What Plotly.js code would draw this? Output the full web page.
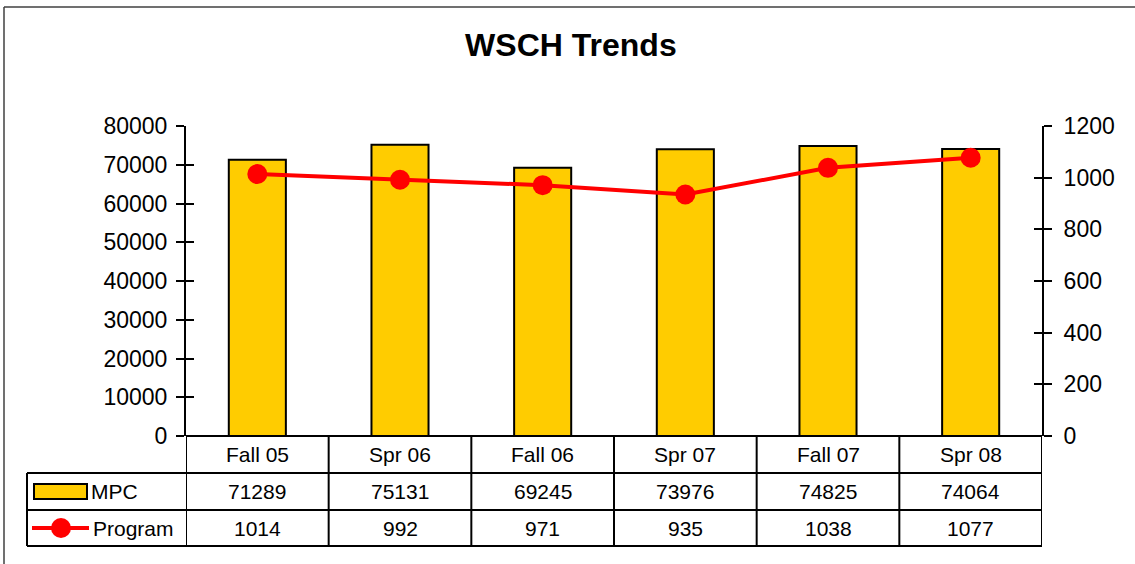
<!DOCTYPE html>
<html>
<head>
<meta charset="utf-8">
<script src="https://cdn.plot.ly/plotly-3.0.1.min.js"></script>
<style>html,body{margin:0;padding:0;background:#fff;}#chart{width:1135px;height:564px;}</style>
</head>
<body>
<div id="chart"></div>
<script>
const categories = ["Fall 05", "Spr 06", "Fall 06", "Spr 07", "Fall 07", "Spr 08"];
const mpcValues = [71289, 75131, 69245, 73976, 74825, 74064];
const programValues = [1014, 992, 971, 935, 1038, 1077];
const seriesNames = ["MPC", "Program"];
const leftTicks = [0, 10000, 20000, 30000, 40000, 50000, 60000, 70000, 80000];
const rightTicks = [0, 200, 400, 600, 800, 1000, 1200];

const W = 1135, H = 564;
const PL = 186, PR = 1042, PT = 126, PB = 436;
const pw = PR - PL, ph = PB - PT;
const px = x => (x - PL) / pw;
const py = y => (PB - y) / ph;

const FONT = "Liberation Sans, Arial, sans-serif";
const idx = categories.map((c, i) => i);

const traces = [
  {
    type: "bar", x: idx, y: mpcValues, name: seriesNames[0],
    width: 0.4,
    marker: {color: "#FFCC00", line: {color: "#000", width: 2}},
    xaxis: "x", yaxis: "y", hoverinfo: "skip"
  },
  {
    type: "scatter", mode: "lines+markers", x: idx, y: programValues, name: seriesNames[1],
    line: {color: "#FF0000", width: 4},
    marker: {color: "#FF0000", size: 20},
    xaxis: "x", yaxis: "y2", hoverinfo: "skip"
  },
  {type: "scatter", x: [0], y: [0], mode: "none", xaxis: "x", yaxis: "y3", showlegend: false, hoverinfo: "skip"},
  {type: "scatter", x: [0], y: [0], mode: "none", xaxis: "x", yaxis: "y4", showlegend: false, hoverinfo: "skip"}
];

const shapes = [];
const annotations = [];
const rowY = [PB, 473, 510, 546];
const lineStyle = {color: "#000", width: 2};

shapes.push({type: "line", xref: "paper", yref: "paper", x0: px(PL), x1: px(PR), y0: py(rowY[0]), y1: py(rowY[0]), line: lineStyle});
for (let r = 1; r < rowY.length; r++) {
  shapes.push({type: "line", xref: "paper", yref: "paper", x0: px(27), x1: 1, y0: py(rowY[r]), y1: py(rowY[r]), line: lineStyle});
}
shapes.push({type: "line", xref: "paper", yref: "paper", x0: px(27), x1: px(27), y0: py(rowY[1]), y1: py(rowY[3]), line: lineStyle});
for (let i = 0; i <= categories.length; i++) {
  shapes.push({type: "line", xref: "x", yref: "paper", x0: i - 0.5, x1: i - 0.5, y0: py(rowY[0]), y1: py(rowY[3]), line: lineStyle});
}

const cellFont = {family: FONT, size: 21, color: "#000"};
const rowMid = r => py((rowY[r] + rowY[r + 1]) / 2);
categories.forEach((c, i) => {
  annotations.push({xref: "x", yref: "paper", x: i, y: rowMid(0), text: c, showarrow: false, font: cellFont, xanchor: "center", yanchor: "middle"});
  annotations.push({xref: "x", yref: "paper", x: i, y: rowMid(1), text: String(mpcValues[i]), showarrow: false, font: cellFont, xanchor: "center", yanchor: "middle"});
  annotations.push({xref: "x", yref: "paper", x: i, y: rowMid(2), text: String(programValues[i]), showarrow: false, font: cellFont, xanchor: "center", yanchor: "middle"});
});
shapes.push({type: "rect", xref: "paper", yref: "paper", x0: px(34), x1: px(87), y0: py(484), y1: py(499), fillcolor: "#FFCC00", line: {color: "#000", width: 2}});
annotations.push({xref: "paper", yref: "paper", x: px(89), y: rowMid(1), text: seriesNames[0], showarrow: false, font: cellFont, xanchor: "left", yanchor: "middle"});
shapes.push({type: "line", xref: "paper", yref: "paper", x0: px(32), x1: px(89), y0: py(528), y1: py(528), line: {color: "#FF0000", width: 4}});
shapes.push({type: "circle", xref: "paper", yref: "paper", x0: px(51), x1: px(71), y0: py(518), y1: py(538), fillcolor: "#FF0000", line: {color: "#FF0000", width: 0}});
annotations.push({xref: "paper", yref: "paper", x: px(91), y: rowMid(2), text: seriesNames[1], showarrow: false, font: cellFont, xanchor: "left", yanchor: "middle"});

shapes.push({type: "line", xref: "paper", yref: "paper", x0: px(4), x1: px(W), y0: py(7), y1: py(7), line: {color: "#404040", width: 1.5}});
shapes.push({type: "line", xref: "paper", yref: "paper", x0: px(4), x1: px(4), y0: py(7), y1: py(H), line: {color: "#404040", width: 1.5}});

const tickFont = {family: FONT, size: 23, color: "#000"};
const layout = {
  width: W, height: H,
  margin: {l: PL, r: W - PR, t: PT, b: H - PB, pad: 0},
  paper_bgcolor: "#fff", plot_bgcolor: "rgba(0,0,0,0)",
  showlegend: false,
  title: {text: "<b>WSCH Trends</b>", font: {family: FONT, size: 32, color: "#000"}, x: 0.503, xanchor: "center", y: 1 - 45 / H, yanchor: "middle", xref: "container", yref: "container"},
  xaxis: {range: [-0.5, 5.5], showticklabels: false, ticks: "", showgrid: false, zeroline: false, showline: false, fixedrange: true},
  yaxis: {range: [0, 80000], tickvals: leftTicks, ticktext: leftTicks.map(String), ticks: "outside", ticklen: 8, tickwidth: 2, tickcolor: "#000", showline: true, linecolor: "#000", linewidth: 2, showgrid: false, zeroline: false, tickfont: tickFont, ticklabelstandoff: 4},
  yaxis2: {range: [0, 1200], overlaying: "y", side: "right", tickvals: rightTicks, ticktext: rightTicks.map(String), ticks: "outside", ticklen: 8, tickwidth: 2, tickcolor: "#000", showline: true, linecolor: "#000", linewidth: 2, showgrid: false, zeroline: false, tickfont: tickFont, ticklabelstandoff: 7},
  yaxis3: {range: [0, 80000], overlaying: "y", side: "left", tickvals: leftTicks, ticks: "inside", ticklen: 8, tickwidth: 2, tickcolor: "#000", showticklabels: false, showline: false, showgrid: false, zeroline: false},
  yaxis4: {range: [0, 1200], overlaying: "y", side: "right", tickvals: rightTicks, ticks: "inside", ticklen: 8, tickwidth: 2, tickcolor: "#000", showticklabels: false, showline: false, showgrid: false, zeroline: false},
  shapes: shapes,
  annotations: annotations
};

Plotly.newPlot("chart", traces, layout, {displayModeBar: false, staticPlot: true});
</script>
</body>
</html>
